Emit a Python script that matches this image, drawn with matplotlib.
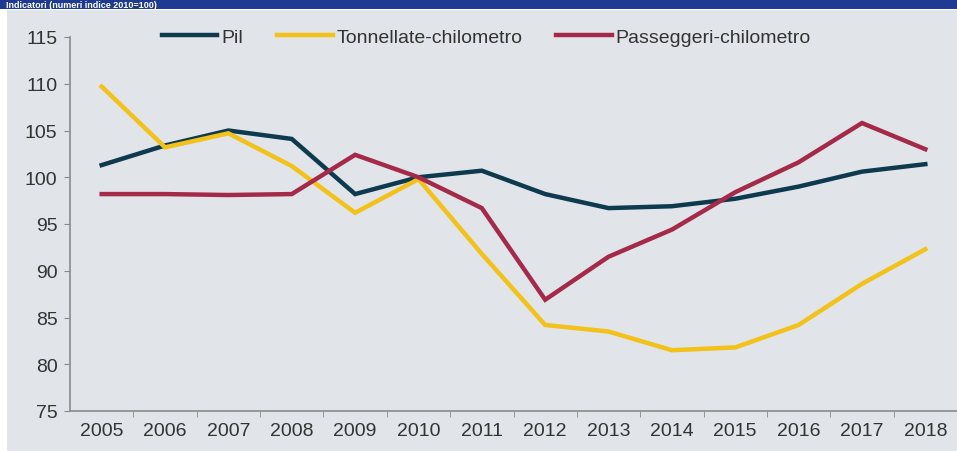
import matplotlib.pyplot as plt
from matplotlib.patches import Rectangle

plt.rcParams['font.family'] = ['Liberation Sans', 'DejaVu Sans']

years = [str(y) for y in range(2005, 2019)]
pil = [101.3, 103.4, 105.0, 104.1, 98.2, 100.0, 100.7, 98.2, 96.7, 96.9, 97.7, 99.0, 100.6, 101.4]
tonnellate = [109.7, 103.2, 104.7, 101.2, 96.2, 99.8, 91.8, 84.2, 83.5, 81.5, 81.8, 84.2, 88.6, 92.3]
passeggeri = [98.2, 98.2, 98.1, 98.2, 102.4, 100.0, 96.7, 86.9, 91.5, 94.4, 98.4, 101.6, 105.8, 103.0]
y_ticks = [75, 80, 85, 90, 95, 100, 105, 110, 115]

bg = '#e1e4e8'
fig = plt.figure(figsize=(9.57, 4.52), dpi=100, facecolor='white')

# sfondo grigio e banda blu in alto
fig.patches.append(Rectangle((7 / 957, 0), 1, 1 - 11 / 452, transform=fig.transFigure,
                             facecolor=bg, edgecolor='none', zorder=-5))
fig.patches.append(Rectangle((0, 1 - 10 / 452), 1, 10 / 452, transform=fig.transFigure,
                             facecolor='#1f3a93', edgecolor='none', zorder=-5))
fig.text(0.006, 1 - 5 / 452, 'Indicatori (numeri indice 2010=100)', color='white',
         fontsize=6.5, fontweight='bold', va='center', ha='left')

ax = fig.add_axes([70 / 957, 40 / 452, 1 - 70 / 957, (412 - 38) / 452])
ax.set_facecolor('none')
ax.set_zorder(2)

x = range(len(years))
ax.plot(x, pil, color='#0d3a4e', lw=3.2, label='Pil', solid_joinstyle='miter')
ax.plot(x, tonnellate, color='#f2c21a', lw=3.2, label='Tonnellate-chilometro', solid_joinstyle='miter')
ax.plot(x, passeggeri, color='#a52a4a', lw=3.2, label='Passeggeri-chilometro', solid_joinstyle='miter')

ax.set_xlim(-0.5, len(years) - 0.5)
ax.set_ylim(75, 115)
ax.set_yticks(y_ticks)
ax.set_xticks(list(x))
ax.set_xticklabels(years)
ax.set_xticks([i + 0.5 for i in range(len(years) - 1)], minor=True)

for s in ['top', 'right']:
    ax.spines[s].set_visible(False)
for s in ['left', 'bottom']:
    ax.spines[s].set_color('#8a8a8a')
    ax.spines[s].set_linewidth(1.2)

ax.tick_params(axis='y', colors='#8a8a8a', labelcolor='#333333', labelsize=14, length=4, pad=5)
ax.tick_params(axis='x', which='major', length=0, labelcolor='#333333', labelsize=14, pad=8)
ax.tick_params(axis='x', which='minor', length=4, color='#8a8a8a')

ax.legend(loc='center left', bbox_to_anchor=(162 / 957, 1 - 38 / 452),
          bbox_transform=fig.transFigure, ncol=3, frameon=False,
          fontsize=14, handlelength=2.85, handletextpad=0.2, columnspacing=1.75,
          borderpad=0, borderaxespad=0, labelcolor='#333333')

fig.savefig('out.png', dpi=100, facecolor=fig.get_facecolor())
